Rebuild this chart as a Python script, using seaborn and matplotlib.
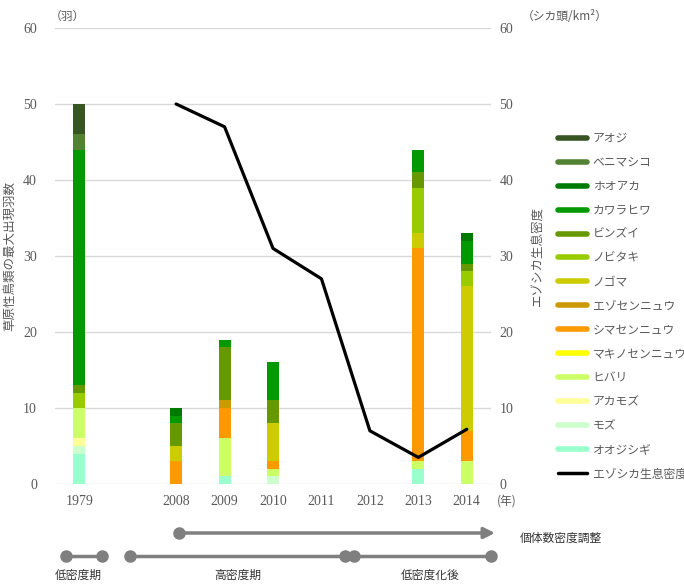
import numpy as np
import matplotlib
matplotlib.use('Agg')
import matplotlib.pyplot as plt
from matplotlib.lines import Line2D
import seaborn as sns

# categories on the x axis (blank slot between 1979 and 2008)
years = ['1979', ' ', '2008', '2009', '2010', '2011', '2012', '2013', '2014']

# species, stacked from the bottom up
species = ['オオジシギ', 'モズ', 'アカモズ', 'ヒバリ', 'マキノセンニュウ', 'シマセンニュウ',
           'エゾセンニュウ', 'ノゴマ', 'ノビタキ', 'ビンズイ', 'カワラヒワ', 'ホオアカ',
           'ベニマシコ', 'アオジ']
colors = ['#99ffcc', '#ccffcc', '#ffff99', '#ccff66', '#ffff00', '#ff9900',
          '#cc9900', '#cccc00', '#99cc00', '#669900', '#009900', '#007a00',
          '#548235', '#375623']

# max counts per species, order matches years
oojishigi   = [4, 0, 0, 1, 0, 0, 0, 2, 0]
mozu        = [1, 0, 0, 0, 1, 0, 0, 0, 0]
akamozu     = [1, 0, 0, 0, 0, 0, 0, 0, 0]
hibari      = [4, 0, 0, 5, 1, 0, 0, 1, 3]
makino      = [0, 0, 0, 0, 0, 0, 0, 0, 0]
shimasen    = [0, 0, 3, 4, 1, 0, 0, 28, 4]
ezosen      = [0, 0, 0, 1, 0, 0, 0, 0, 0]
nogoma      = [0, 0, 2, 0, 5, 0, 0, 2, 19]
nobitaki    = [2, 0, 0, 0, 0, 0, 0, 6, 2]
binzui      = [1, 0, 3, 7, 3, 0, 0, 2, 1]
kawarahiwa  = [31, 0, 1, 1, 5, 0, 0, 3, 3]
hooaka      = [0, 0, 1, 0, 0, 0, 0, 0, 1]
benimashiko = [2, 0, 0, 0, 0, 0, 0, 0, 0]
aoji        = [4, 0, 0, 0, 0, 0, 0, 0, 0]

# deer density (right axis)
density_years = ['2008', '2009', '2010', '2011', '2012', '2013', '2014']
density = [50, 47, 31, 27, 7, 3.5, 7.2]

counts = np.array([oojishigi, mozu, akamozu, hibari, makino, shimasen, ezosen,
                   nogoma, nobitaki, binzui, kawarahiwa, hooaka, benimashiko, aoji])
cum = counts.cumsum(axis=0)

sns.set_style('white')
plt.rcParams['font.family'] = ['Liberation Serif', 'Noto Sans CJK JP']
jp = ['Noto Sans CJK JP', 'DejaVu Sans']
gray_txt = '#595959'

W, H = 684, 585
fig = plt.figure(figsize=(W / 100, H / 100), dpi=100)
ax = fig.add_axes([55 / W, 1 - 484 / H, 436 / W, 456 / H])

# stacked bars: draw cumulative totals from the top layer down
for i in range(len(species) - 1, -1, -1):
    sns.barplot(x=years, y=cum[i], order=years, color=colors[i], width=0.25,
                saturation=1, linewidth=0, errorbar=None, ax=ax)

ax.set_ylim(0, 60)
ax.set_xlim(-0.5, len(years) - 0.5)
ax.set_yticks(range(0, 61, 10))
ax.yaxis.grid(True, color='#d9d9d9', lw=1)
ax.set_axisbelow(True)
for s in ax.spines.values():
    s.set_visible(False)
ax.tick_params(axis='both', length=0, colors=gray_txt, labelsize=10)
ax.tick_params(axis='y', pad=13)
ax.tick_params(axis='x', pad=8)
ax.set_xticks(range(len(years)))
ax.set_xticklabels([y.strip() for y in years])
ax.set_xlabel('')
ax.set_ylabel('草原性鳥類の最大出現羽数', family=jp, fontsize=9, color=gray_txt)
ax.yaxis.set_label_coords(-0.09, 0.5)

ax2 = ax.twinx()
xpos = [years.index(y) for y in density_years]
sns.lineplot(x=xpos, y=density, color='black', lw=2.3, ax=ax2)
ax2.set_ylim(0, 60)
ax2.set_yticks(range(0, 61, 10))
for s in ax2.spines.values():
    s.set_visible(False)
ax2.tick_params(axis='y', length=0, colors=gray_txt, labelsize=10, pad=6)
ax2.set_ylabel('エゾシカ生息密度', family=jp, fontsize=9, color=gray_txt)
ax2.yaxis.set_label_coords(1.092, 0.5)

# units
fig.text(50 / W, 1 - 16 / H, '（羽）', family=jp, fontsize=8.5, color=gray_txt, va='center')
fig.text(522 / W, 1 - 16 / H, '（シカ頭/km²）', family=jp, fontsize=8.5, color=gray_txt, va='center')
fig.text(497 / W, 1 - 501 / H, '(年)', family=jp, fontsize=8.5, color=gray_txt, va='center')

# legend
handles = [Line2D([], [], color=c, lw=4) for c in colors[::-1]]
handles.append(Line2D([], [], color='black', lw=2.5))
labels = species[::-1] + ['エゾシカ生息密度']
fig.legend(handles, labels, loc='upper left', bbox_to_anchor=(553 / W, 1 - 127 / H),
           frameon=False, handlelength=2.5, handletextpad=0.45, labelspacing=0.93,
           prop={'family': jp, 'size': 8.5}, labelcolor=gray_txt, borderaxespad=0)

# period annotations below the chart
lc = '#7f7f7f'
def fx(px):
    return px / W
def fy(py):
    return 1 - py / H

fig.add_artist(Line2D([fx(179)], [fy(533)], marker='o', ms=8, color=lc,
                      transform=fig.transFigure))
ax.annotate('', xy=(fx(495), fy(533)), xytext=(fx(179), fy(533)), xycoords='figure fraction',
            arrowprops=dict(arrowstyle='-|>', color=lc, lw=2.5, mutation_scale=16,
                            shrinkA=0, shrinkB=0))
fig.text(fx(520), fy(538), '個体数密度調整', family=jp, fontsize=8.5, color='#333333', va='center')

for x0, x1, label, lx in [(66, 102, '低密度期', 78), (130, 345, '高密度期', 238),
                          (354, 491, '低密度化後', 430)]:
    fig.add_artist(Line2D([fx(x0), fx(x1)], [fy(556), fy(556)], marker='o', ms=8,
                          lw=2.5, color=lc, transform=fig.transFigure))
    fig.text(fx(lx), fy(575), label, family=jp, fontsize=8.5, color='#333333',
             va='center', ha='center')

plt.savefig('out.png', dpi=100)
plt.close('all')
